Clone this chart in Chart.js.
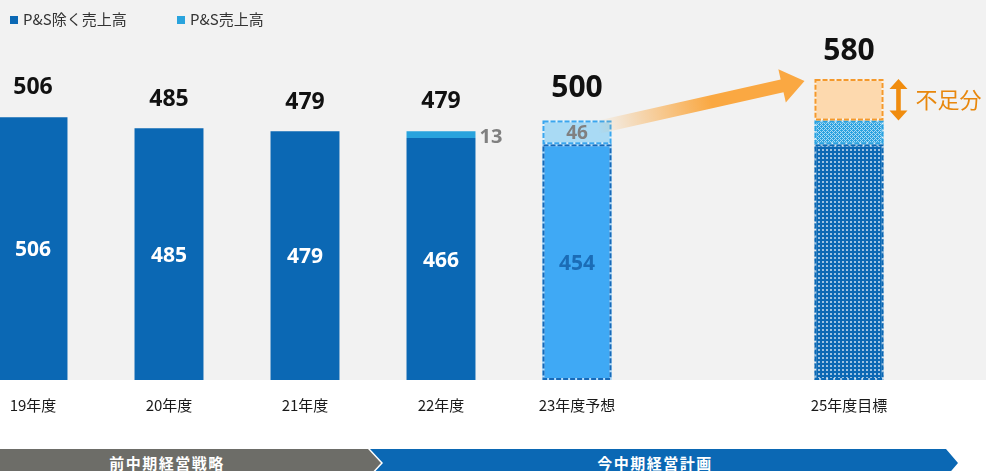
<!DOCTYPE html>
<html>
<head>
<meta charset="utf-8">
<script src="https://cdn.jsdelivr.net/npm/chart.js@4.4.0/dist/chart.umd.min.js"></script>
<style>
  html, body { margin: 0; padding: 0; background: #fff; }
  body { width: 986px; height: 471px; position: relative; overflow: hidden; font-family: 'Noto Sans CJK JP', sans-serif; }
  #sales { position: absolute; left: -35px; top: 0; }
  .legend { position: absolute; top: 9px; font-size: 15px; color: #333; line-height: 20px; white-space: nowrap; }
  .legend i { display: inline-block; width: 8px; height: 8px; margin-right: 5px; vertical-align: 1px; }
  .band { position: absolute; top: 449px; height: 28px; color: #fff; font-size: 15px; font-weight: bold; letter-spacing: 1.5px; line-height: 28px; }
  .band span { position: absolute; top: 0; left: 0; text-align: center; }
  .band.prev { left: 0; width: 381px; background: #6d6d68; clip-path: polygon(0 0, 368px 0, 381px 14px, 368px 28px, 0 28px); }
  .band.prev span { width: 334px; }
  .band.cur { left: 370px; width: 588px; background: #0b68b4; clip-path: polygon(0 0, 576px 0, 588px 14px, 576px 28px, 0 28px, 13px 14px); }
  .band.cur span { width: 570px; }
</style>
</head>
<body>
<canvas id="sales" width="1021" height="430"></canvas>
<div class="legend" style="left:10px"><i style="background:#0b68b4"></i>P&amp;S除く売上高</div>
<div class="legend" style="left:177px"><i style="background:#29a3dd"></i>P&amp;S売上高</div>
<div class="band prev"><span>前中期経営戦略</span></div>
<div class="band cur"><span>今中期経営計画</span></div>
<script>
// fiscal years; slot 5 is an empty gap before the FY25 target
const categories = ['19年度', '20年度', '21年度', '22年度', '23年度予想', '', '25年度目標'];
const seriesNames = ['P&S除く売上高', 'P&S売上高', '不足分'];
const baseSales = [506, 485, 479, 466, 454, null, 454];
const psSales = [null, null, null, 13, 46, null, 46];
const shortfall = [null, null, null, null, null, null, 80];

const NUM_FONT = "'Open Sans', 'Noto Sans CJK JP', sans-serif";
const JP_FONT = "'Noto Sans CJK JP', sans-serif";
const DARK = '#0b68b4';
const LIGHT = '#29a3dd';

function makePattern(base, dot, cells) {
  const c = document.createElement('canvas');
  c.width = c.height = 4;
  const g = c.getContext('2d');
  g.fillStyle = base;
  g.fillRect(0, 0, 4, 4);
  g.fillStyle = dot;
  cells.forEach(([x, y, w, h]) => g.fillRect(x, y, w, h));
  return g.createPattern(c, 'repeat');
}
const darkDots = makePattern(DARK, 'rgba(255,255,255,0.6)', [[1, 1, 2, 2]]);
const lightHatch = makePattern('#2aa2e0', 'rgba(255,255,255,0.6)',
  [[0, 0, 1, 1], [1, 1, 1, 1], [2, 2, 1, 1], [3, 3, 1, 1], [1, 3, 1, 1], [3, 1, 1, 1]]);

const ctx = document.getElementById('sales').getContext('2d');

// gray panel behind the plot area
const panelPlugin = {
  id: 'panel',
  beforeDraw(chart) {
    const c = chart.ctx;
    c.save();
    c.fillStyle = '#f2f2f2';
    c.fillRect(0, 0, chart.width, chart.chartArea.bottom);
    c.restore();
  }
};

// dashed outlines for forecast / target segments
const dashPlugin = {
  id: 'dashedBars',
  afterDatasetsDraw(chart) {
    const c = chart.ctx;
    chart.data.datasets.forEach((ds, di) => {
      if (!ds.dashColor) return;
      chart.getDatasetMeta(di).data.forEach((bar, i) => {
        const col = ds.dashColor[i];
        if (!col || ds.data[i] == null) return;
        const l = bar.x - bar.width / 2 + 1, r = bar.x + bar.width / 2 - 1;
        const t = Math.min(bar.y, bar.base) + 1, b = Math.max(bar.y, bar.base) - 1;
        c.save();
        c.lineWidth = 2;
        c.strokeStyle = 'rgba(255,255,255,0.6)';
        c.strokeRect(l, t, r - l, b - t);
        c.setLineDash([5, 2]);
        c.strokeStyle = col;
        c.strokeRect(l, t, r - l, b - t);
        c.restore();
      });
    });
  }
};

const insideColor = ['#fff', '#fff', '#fff', '#fff', '#1b6cb6', null, null];
const totalSize = [23, 23, 23, 23, 30, 0, 30];
const totalGap = [23, 22, 22, 23, 23, 0, 19];

function drawNum(c, text, x, yMid, size, color, align) {
  c.font = 'bold ' + size + 'px ' + NUM_FONT;
  c.fillStyle = color;
  c.textAlign = align || 'center';
  c.textBaseline = 'alphabetic';
  c.fillText(text, x, yMid + size * 0.36);
}

const labelPlugin = {
  id: 'barLabels',
  afterDatasetsDraw(chart) {
    const c = chart.ctx;
    const m0 = chart.getDatasetMeta(0).data;
    const m1 = chart.getDatasetMeta(1).data;
    const m2 = chart.getDatasetMeta(2).data;
    c.save();
    categories.forEach((_, i) => {
      if (baseSales[i] != null && insideColor[i]) {
        const b = m0[i];
        drawNum(c, String(baseSales[i]), b.x, (b.y + b.base) / 2, 21, insideColor[i]);
      }
      if (psSales[i] != null && i < 6) {
        const b = m1[i];
        const mid = (b.y + b.base) / 2;
        if (b.base - b.y < 16) {
          drawNum(c, String(psSales[i]), b.x + b.width / 2 + 4, mid + 1, 20, '#808080', 'left');
        } else {
          drawNum(c, String(psSales[i]), b.x, mid, 19, '#808080');
        }
      }
      const total = (baseSales[i] || 0) + (psSales[i] || 0) + (shortfall[i] || 0);
      if (total > 0) {
        const top = [m2[i], m1[i], m0[i]].find((b, k) => [shortfall, psSales, baseSales][k][i] != null);
        c.font = 'bold ' + totalSize[i] + 'px ' + NUM_FONT;
        c.fillStyle = '#111';
        c.textAlign = 'center';
        c.textBaseline = 'alphabetic';
        c.fillText(String(total), top.x, top.y - totalGap[i]);
      }
    });
    c.restore();
  }
};

// growth arrow toward the target and the shortfall marker
const arrowPlugin = {
  id: 'targetArrows',
  afterDatasetsDraw(chart) {
    const c = chart.ctx;
    const from = chart.getDatasetMeta(1).data[4];
    const to = chart.getDatasetMeta(2).data[6];
    const x0 = from.x + from.width / 2 - 14, y0 = from.y + 7;
    const x1 = to.x - to.width / 2 - 10, y1 = to.y + 2;
    const len = Math.hypot(x1 - x0, y1 - y0);
    const headLen = 23, headHalf = 17, shaftHalf = 6.5;
    c.save();
    c.translate(x0, y0);
    c.rotate(Math.atan2(y1 - y0, x1 - x0));
    const grad = c.createLinearGradient(0, 0, len, 0);
    grad.addColorStop(0, 'rgba(250,168,66,0)');
    grad.addColorStop(0.55, 'rgba(250,168,66,1)');
    grad.addColorStop(1, 'rgba(250,168,66,1)');
    c.fillStyle = grad;
    c.beginPath();
    c.moveTo(0, -shaftHalf);
    c.lineTo(len - headLen, -shaftHalf);
    c.lineTo(len - headLen, -headHalf);
    c.lineTo(len, 0);
    c.lineTo(len - headLen, headHalf);
    c.lineTo(len - headLen, shaftHalf);
    c.lineTo(0, shaftHalf);
    c.closePath();
    c.fill();
    c.restore();

    // double-headed marker beside the shortfall segment
    const ax = to.x + to.width / 2 + 15;
    const top = to.y, bot = to.base;
    c.save();
    c.fillStyle = '#f08c0e';
    c.beginPath();
    c.moveTo(ax, top);
    c.lineTo(ax + 9, top + 10);
    c.lineTo(ax + 2.3, top + 10);
    c.lineTo(ax + 2.3, bot - 10);
    c.lineTo(ax + 9, bot - 10);
    c.lineTo(ax, bot);
    c.lineTo(ax - 9, bot - 10);
    c.lineTo(ax - 2.3, bot - 10);
    c.lineTo(ax - 2.3, top + 10);
    c.lineTo(ax - 9, top + 10);
    c.closePath();
    c.fill();
    c.font = '22px ' + JP_FONT;
    c.fillStyle = '#e8870c';
    c.textAlign = 'left';
    c.textBaseline = 'middle';
    c.fillText(chart.data.datasets[2].label, to.x + to.width / 2 + 32, (top + bot) / 2);
    c.restore();
  }
};

new Chart(ctx, {
  type: 'bar',
  data: {
    labels: categories,
    datasets: [
      {
        label: seriesNames[0],
        data: baseSales,
        backgroundColor: [DARK, DARK, DARK, DARK, '#3fa9f5', DARK, darkDots],
        dashColor: [null, null, null, null, '#1769b8', null, '#0b68b4']
      },
      {
        label: seriesNames[1],
        data: psSales,
        backgroundColor: [LIGHT, LIGHT, LIGHT, LIGHT, '#a9daf4', LIGHT, lightHatch],
        dashColor: [null, null, null, null, '#3aa6ee', null, '#2aa2e0']
      },
      {
        label: seriesNames[2],
        data: shortfall,
        backgroundColor: '#fdd9ae',
        dashColor: [null, null, null, null, null, null, '#f4992c']
      }
    ]
  },
  options: {
    responsive: false,
    animation: false,
    layout: { padding: { right: 69 } },
    datasets: { bar: { barPercentage: 0.507, categoryPercentage: 1 } },
    plugins: { legend: { display: false }, tooltip: { enabled: false } },
    scales: {
      x: {
        stacked: true,
        grid: { display: false, drawTicks: false },
        border: { display: false },
        ticks: { padding: 16, color: '#1a1a1a', font: { size: 15, family: JP_FONT } }
      },
      y: { stacked: true, display: false, min: 0, max: 732 }
    }
  },
  plugins: [panelPlugin, dashPlugin, labelPlugin, arrowPlugin]
});
</script>
</body>
</html>
